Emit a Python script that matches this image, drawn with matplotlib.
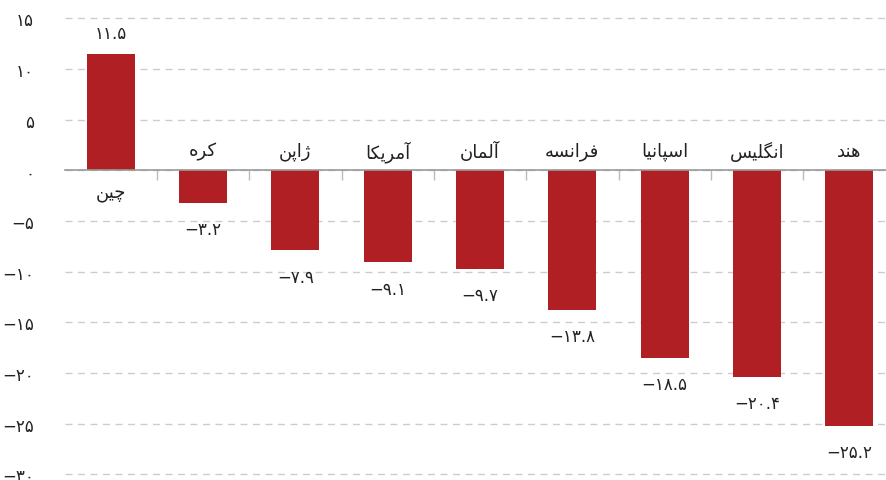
import matplotlib
matplotlib.use("Agg")
import matplotlib.pyplot as plt
from matplotlib.ticker import FixedLocator, FuncFormatter

# DATA
countries = ["چین", "کره", "ژاپن", "آمریکا", "آلمان", "فرانسه", "اسپانیا", "انگلیس", "هند"]
values = [11.5, -3.2, -7.9, -9.1, -9.7, -13.8, -18.5, -20.4, -25.2]
yticks = [15, 10, 5, 0, -5, -10, -15, -20, -25, -30]

BAR_COLOR = "#AF1F24"

# Arabic presentation forms: (isolated, final, initial, medial); right-joining letters have no initial/medial
FORMS = {
    "ا": ("\uFE8D", "\uFE8E", None, None),
    "آ": ("\uFE81", "\uFE82", None, None),
    "د": ("\uFEA9", "\uFEAA", None, None),
    "ر": ("\uFEAD", "\uFEAE", None, None),
    "ژ": ("\uFB8A", "\uFB8B", None, None),
    "ن": ("\uFEE5", "\uFEE6", "\uFEE7", "\uFEE8"),
    "م": ("\uFEE1", "\uFEE2", "\uFEE3", "\uFEE4"),
    "ل": ("\uFEDD", "\uFEDE", "\uFEDF", "\uFEE0"),
    "ف": ("\uFED1", "\uFED2", "\uFED3", "\uFED4"),
    "س": ("\uFEB1", "\uFEB2", "\uFEB3", "\uFEB4"),
    "ه": ("\uFEE9", "\uFEEA", "\uFEEB", "\uFEEC"),
    "چ": ("\uFB7A", "\uFB7B", "\uFB7C", "\uFB7D"),
    "پ": ("\uFB56", "\uFB57", "\uFB58", "\uFB59"),
    "ک": ("\uFB8E", "\uFB8F", "\uFB90", "\uFB91"),
    "گ": ("\uFB92", "\uFB93", "\uFB94", "\uFB95"),
    "ی": ("\uFBFC", "\uFBFD", "\uFBFE", "\uFBFF"),
}


def shape(word):
    # join letters and reverse so matplotlib's left-to-right drawing reads right-to-left
    out = []
    for i, c in enumerate(word):
        prev = word[i - 1] if i > 0 else None
        nxt = word[i + 1] if i + 1 < len(word) else None
        iso, fin, ini, med = FORMS[c]
        join_prev = prev is not None and FORMS[prev][2] is not None
        join_next = nxt is not None and ini is not None
        if join_prev and join_next:
            out.append(med)
        elif join_prev:
            out.append(fin)
        elif join_next:
            out.append(ini)
        else:
            out.append(iso)
    return "".join(out)[::-1]


FA_DIGITS = str.maketrans("0123456789", "۰۱۲۳۴۵۶۷۸۹")


def fa_num(v, fmt="{:g}"):
    s = fmt.format(abs(v)).translate(FA_DIGITS)
    return ("−" + s) if v < 0 else s


plt.rcParams['font.family'] = ['DejaVu Sans']

fig = plt.figure(figsize=(8.86, 4.81), dpi=100)
ax = fig.add_axes([64.6 / 886, 0.0, 830.9 / 886, 1.0])

x = list(range(len(countries)))
ax.bar(x, values, width=0.52, color=BAR_COLOR, zorder=3)

ax.set_xlim(-0.5, len(countries) - 0.5)
ax.set_ylim(-30.57, 16.91)

# grid
ax.yaxis.set_major_locator(FixedLocator(yticks))
ax.yaxis.set_major_formatter(FuncFormatter(lambda v, p: fa_num(v, "{:.0f}")))
ax.yaxis.grid(True, color="#cccccc", linestyle=(0, (5, 4)), linewidth=1.0, zorder=0)
ax.tick_params(axis="y", length=0, pad=22, labelsize=12, labelcolor="#222222")

# zero line with category boundary ticks
for s in ["top", "right", "left"]:
    ax.spines[s].set_visible(False)
ax.spines["bottom"].set_position(("data", 0))
ax.spines["bottom"].set_color("#999999")
ax.spines["bottom"].set_linewidth(1.2)
ax.spines["bottom"].set_zorder(4)
ax.xaxis.set_major_locator(FixedLocator(x))
ax.xaxis.set_minor_locator(FixedLocator([i + 0.5 for i in x[:-1]]))
ax.tick_params(axis="x", which="major", length=0, labelbottom=False)
ax.tick_params(axis="x", which="minor", length=7, width=1, color="#bbbbbb", direction="out")

for xi, name, v in zip(x, countries, values):
    if v >= 0:
        ax.annotate(fa_num(v, "{:.1f}"), (xi, v), xytext=(0, 15), textcoords="offset points",
                    ha="center", va="center", fontsize=12, color="#222222")
        ax.annotate(shape(name), (xi, 0), xytext=(0, -16), textcoords="offset points",
                    ha="center", va="center", fontsize=13, color="#222222")
    else:
        ax.annotate(fa_num(v, "{:.1f}"), (xi, v), xytext=(0, -19), textcoords="offset points",
                    ha="center", va="center", fontsize=12, color="#222222")
        ax.annotate(shape(name), (xi, 0), xytext=(0, 14), textcoords="offset points",
                    ha="center", va="center", fontsize=13, color="#222222")

fig.savefig("out.png", dpi=100)
